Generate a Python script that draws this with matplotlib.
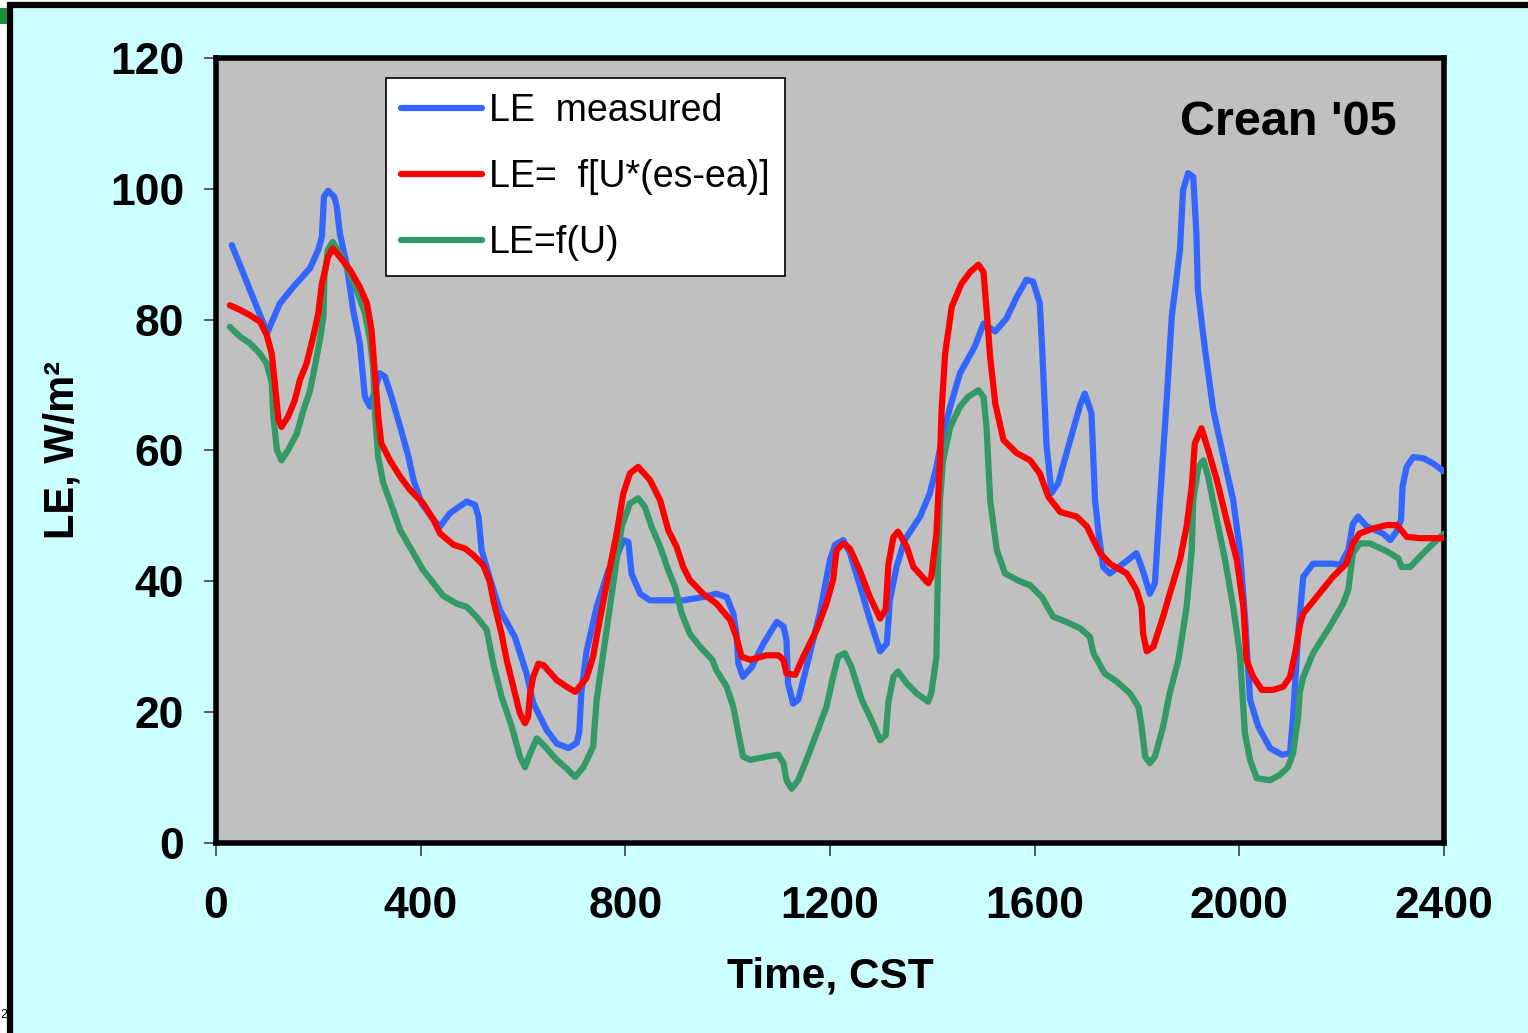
import matplotlib
matplotlib.use("Agg")
import matplotlib.pyplot as plt
from matplotlib.patches import Rectangle

# Latent heat flux over the day, measured vs two wind-function models
t_meas = [31, 100, 125, 151, 184, 200, 207, 211, 219, 231, 236, 242, 255, 268, 281,
          291, 301, 320, 330, 343, 360, 376, 386, 402, 425, 438, 457, 490, 506, 513,
          519, 535, 555, 584, 607, 620, 646, 666, 689, 705, 710, 714, 724, 744, 767,
          783, 796, 806, 812, 829, 848, 913, 952, 978, 998, 1011, 1017, 1021, 1030,
          1047, 1070, 1096, 1109, 1115, 1118, 1128, 1138, 1154, 1180, 1200, 1210,
          1226, 1239, 1259, 1278, 1298, 1311, 1317, 1330, 1346, 1376, 1395, 1408,
          1421, 1435, 1454, 1483, 1500, 1523, 1545, 1565, 1584, 1597, 1610, 1615,
          1623, 1633, 1646, 1662, 1689, 1698, 1711, 1718, 1725, 1734, 1747, 1773,
          1799, 1812, 1825, 1835, 1845, 1858, 1868, 1884, 1890, 1900, 1910, 1916,
          1919, 1933, 1949, 1969, 1988, 2001, 2011, 2021, 2037, 2060, 2083, 2099,
          2105, 2115, 2125, 2144, 2183, 2197, 2213, 2222, 2232, 2249, 2281, 2295,
          2307, 2316, 2319, 2327, 2340, 2360, 2379, 2400]
le_meas = [91.4, 78.0, 82.5, 85.0, 87.9, 90.7, 92.7, 98.8, 99.7, 98.8, 97.3, 93.2, 88.6,
           81.5, 76.4, 68.2, 66.7, 71.8, 71.3, 68.2, 63.6, 59.1, 55.5, 51.9, 49.4, 48.4,
           50.4, 52.2, 51.7, 49.9, 44.8, 40.5, 35.6, 31.5, 25.9, 21.4, 17.3, 15.2, 14.5,
           15.3, 17.0, 23.0, 29.2, 36.1, 41.7, 43.8, 46.3, 46.0, 41.2, 38.1, 37.1, 37.1,
           37.6, 38.1, 37.6, 35.1, 32.0, 27.4, 25.4, 26.9, 30.5, 33.8, 33.1, 31.0, 24.4,
           21.3, 21.9, 26.9, 35.1, 43.3, 45.6, 46.3, 44.3, 39.2, 34.1, 29.3, 30.5, 37.1,
           42.2, 46.3, 49.9, 53.4, 57.5, 62.6, 66.7, 71.8, 75.9, 79.4, 78.2, 80.2, 83.5,
           86.1, 85.8, 82.5, 75.0, 61.0, 53.5, 55.0, 59.5, 67.0, 68.7, 65.7, 52.4, 47.3,
           42.2, 41.2, 42.7, 44.3, 41.5, 38.1, 39.7, 52.4, 67.7, 80.5, 90.7, 99.8, 102.4,
           101.8, 93.2, 84.5, 75.4, 66.2, 59.0, 52.4, 44.8, 34.5, 21.9, 17.8, 14.5, 13.5,
           13.7, 19.3, 32.0, 40.7, 42.7, 42.7, 42.5, 44.8, 48.8, 49.9, 48.4, 47.3, 46.3,
           47.6, 49.4, 54.5, 57.5, 59.0, 58.8, 58.0, 56.8]

t_vpd = [27, 47, 66, 86, 99, 109, 115, 122, 128, 141, 154, 164, 177, 190, 200, 207,
         219, 228, 242, 262, 281, 295, 304, 311, 317, 323, 340, 360, 379, 405, 425,
         438, 464, 487, 503, 522, 535, 542, 558, 568, 581, 594, 604, 610, 614, 620,
         630, 640, 666, 685, 702, 724, 737, 750, 770, 783, 796, 809, 825, 848, 868,
         884, 900, 913, 926, 952, 978, 1005, 1017, 1027, 1044, 1076, 1099, 1109, 1115,
         1132, 1148, 1174, 1193, 1206, 1213, 1226, 1239, 1259, 1278, 1298, 1309, 1314,
         1324, 1333, 1350, 1363, 1392, 1398, 1408, 1415, 1418, 1425, 1438, 1457, 1474,
         1490, 1500, 1506, 1513, 1523, 1539, 1565, 1591, 1610, 1627, 1650, 1682, 1702,
         1715, 1728, 1747, 1780, 1799, 1809, 1812, 1819, 1832, 1851, 1864, 1884, 1897,
         1907, 1913, 1926, 1939, 1956, 1975, 1995, 2008, 2014, 2027, 2044, 2066, 2086,
         2099, 2109, 2119, 2125, 2151, 2183, 2209, 2222, 2235, 2262, 2288, 2307, 2317,
         2327, 2352, 2400]
le_vpd = [82.2, 81.5, 80.7, 79.7, 77.7, 74.8, 70.3, 64.7, 63.6, 65.2, 67.7, 70.8, 73.3,
          77.4, 81.0, 85.5, 89.6, 90.9, 89.6, 87.6, 85.0, 82.5, 78.4, 71.3, 65.2, 61.1,
          58.5, 56.0, 54.0, 51.9, 49.4, 47.3, 45.6, 45.0, 44.0, 42.5, 40.0, 37.1, 32.0,
          28.0, 23.9, 19.8, 18.3, 19.3, 22.9, 25.4, 27.4, 27.2, 24.9, 23.9, 23.1, 25.2,
          28.5, 34.1, 42.2, 47.3, 53.4, 56.5, 57.5, 55.5, 52.4, 47.8, 45.3, 42.2, 40.2,
          38.1, 36.6, 34.1, 31.5, 28.5, 28.0, 28.7, 28.7, 28.0, 25.9, 25.7, 28.5, 32.6,
          36.6, 40.2, 44.8, 45.8, 45.0, 41.5, 37.6, 34.3, 35.8, 42.5, 46.8, 47.6, 45.3,
          42.2, 39.7, 40.7, 47.3, 58.5, 66.0, 74.8, 82.0, 85.5, 87.3, 88.4, 87.3, 81.5,
          74.3, 67.2, 61.6, 59.6, 58.5, 56.5, 52.9, 50.6, 49.9, 48.4, 46.3, 44.3, 42.7,
          41.2, 38.7, 36.1, 32.0, 29.3, 30.0, 34.6, 38.1, 43.3, 48.4, 54.5, 61.1, 63.4,
          60.1, 55.5, 49.4, 43.3, 36.1, 28.0, 25.4, 23.4, 23.4, 23.9, 25.4, 29.0, 33.5,
          35.1, 37.6, 40.7, 42.7, 45.8, 47.3, 48.1, 48.6, 48.6, 47.8, 46.8, 46.6, 46.6]

t_wind = [27, 47, 66, 86, 99, 109, 112, 119, 128, 141, 158, 171, 184, 193, 203, 210,
          212, 219, 228, 242, 255, 275, 291, 301, 307, 311, 317, 327, 343, 360, 386,
          405, 425, 444, 470, 490, 509, 529, 542, 558, 578, 594, 604, 614, 627, 640,
          666, 685, 702, 718, 728, 737, 744, 757, 770, 783, 793, 809, 825, 838, 851,
          868, 884, 897, 910, 926, 946, 970, 978, 998, 1011, 1021, 1030, 1044, 1076,
          1099, 1109, 1115, 1125, 1138, 1154, 1174, 1193, 1206, 1216, 1229, 1242, 1262,
          1281, 1298, 1309, 1314, 1324, 1333, 1350, 1369, 1392, 1398, 1408, 1411, 1415,
          1421, 1435, 1454, 1470, 1490, 1500, 1506, 1513, 1526, 1542, 1571, 1591, 1614,
          1636, 1662, 1689, 1708, 1715, 1737, 1760, 1786, 1803, 1809, 1816, 1825, 1835,
          1851, 1864, 1881, 1897, 1907, 1910, 1920, 1930, 1939, 1956, 1972, 1988, 2001,
          2011, 2021, 2034, 2060, 2079, 2095, 2105, 2115, 2118, 2125, 2144, 2177, 2203,
          2213, 2222, 2235, 2255, 2288, 2311, 2317, 2334, 2363, 2400]
le_wind = [78.9, 77.4, 76.4, 74.8, 73.3, 70.3, 65.2, 60.1, 58.5, 60.1, 62.6, 66.2, 69.2,
           72.8, 76.9, 80.5, 86.6, 90.7, 91.9, 90.1, 88.1, 84.5, 81.0, 76.9, 72.8, 65.2,
           59.0, 55.0, 51.6, 47.8, 44.3, 41.7, 39.7, 37.8, 36.6, 36.1, 34.6, 32.6, 27.4,
           22.4, 17.8, 13.2, 11.6, 13.7, 16.0, 15.0, 12.7, 11.4, 10.1, 11.6, 13.2, 14.7,
           21.9, 29.0, 36.1, 43.3, 48.4, 51.9, 52.7, 51.4, 48.4, 45.3, 41.7, 39.2, 35.1,
           32.0, 30.0, 28.0, 26.4, 23.9, 20.8, 16.8, 13.2, 12.7, 13.2, 13.5, 12.2, 9.6,
           8.3, 9.6, 12.7, 16.8, 20.8, 25.4, 28.5, 29.0, 26.9, 21.9, 18.8, 15.7, 16.5,
           21.5, 25.4, 26.2, 24.4, 22.9, 21.6, 22.9, 28.5, 42.2, 52.4, 58.5, 63.6, 66.7,
           68.2, 69.2, 68.2, 63.5, 52.4, 44.8, 41.2, 40.0, 39.4, 37.6, 34.6, 33.8, 32.8,
           31.5, 29.0, 25.9, 24.7, 22.9, 20.8, 17.8, 13.2, 12.2, 13.2, 17.8, 22.9, 28.0,
           36.1, 44.8, 52.4, 57.5, 58.5, 56.0, 49.4, 43.3, 36.1, 29.0, 16.7, 12.7, 9.9,
           9.6, 10.4, 11.6, 13.7, 19.3, 23.0, 25.4, 29.0, 33.1, 36.6, 38.7, 44.3, 45.8,
           45.8, 44.6, 43.5, 42.2, 42.2, 44.6, 47.3]

x_ticks = [0, 400, 800, 1200, 1600, 2000, 2400]
y_ticks = [0, 20, 40, 60, 80, 100, 120]

plt.rcParams['font.family'] = ['Liberation Sans', 'DejaVu Sans']

fig = plt.figure(figsize=(15.28, 10.33), dpi=100, facecolor='white')

# slide panel behind the chart
fig.patches.append(Rectangle((10 / 1528, -0.1), 1.2, 1.1 - 5 / 1033,
                             transform=fig.transFigure, facecolor='#CCFFFF',
                             edgecolor='black', linewidth=4.5, zorder=-5))
fig.patches.append(Rectangle((0, 1 - 24 / 1033), 7 / 1528, 16 / 1033,
                             transform=fig.transFigure, facecolor='#1a8f3a',
                             edgecolor='none', zorder=-4))
fig.text(0.0, 0.012, '2', ha='left', va='bottom', fontsize=9, color='black')

ax = fig.add_axes([216 / 1528, 1 - 843 / 1033, 1228 / 1528, 785 / 1033])
ax.set_zorder(2)
ax.set_facecolor('#C0C0C0')

lw = 4.5
ax.plot(t_meas, le_meas, color='#3366FF', lw=lw, solid_joinstyle='round',
        solid_capstyle='round', label='LE  measured', zorder=3)
ax.plot(t_vpd, le_vpd, color='#FF0000', lw=lw, solid_joinstyle='round',
        solid_capstyle='round', label='LE=  f[U*(es-ea)]', zorder=5)
ax.plot(t_wind, le_wind, color='#339966', lw=lw, solid_joinstyle='round',
        solid_capstyle='round', label='LE=f(U)', zorder=4)

ax.set_xlim(0, 2400)
ax.set_ylim(0, 120)
ax.set_xticks(x_ticks)
ax.set_yticks(y_ticks)
ax.tick_params(direction='out', length=9, width=1.2, color='#404040',
               labelsize=32)
ax.tick_params(axis='x', pad=22)
ax.tick_params(axis='y', pad=14)
for lab in ax.get_xticklabels() + ax.get_yticklabels():
    lab.set_fontweight('bold')
for sp in ax.spines.values():
    sp.set_linewidth(4)
    sp.set_color('black')

fig.text(830 / 1528, 1 - 977 / 1033, 'Time, CST', ha='center', va='center',
         fontsize=30.5, fontweight='bold')
fig.text(62 / 1528, 1 - 450 / 1033, 'LE, W/m²', ha='center', va='center',
         rotation=90, fontsize=30, fontweight='bold')

ax.text((1288 - 216) / 1228, (843 - 123) / 785, "Crean '05", transform=ax.transAxes,
        ha='center', va='center', fontsize=35, fontweight='bold')

leg = ax.legend(loc='upper left', bbox_to_anchor=((386 - 216) / 1228, (843 - 78) / 785),
                fontsize=27, frameon=True, fancybox=False, framealpha=1,
                edgecolor='black', handlelength=2.15, handletextpad=0.2,
                labelspacing=0.8, borderpad=0.4, borderaxespad=0)
leg.get_frame().set_linewidth(1.2)

fig.savefig('out.png', dpi=100, facecolor=fig.get_facecolor())
